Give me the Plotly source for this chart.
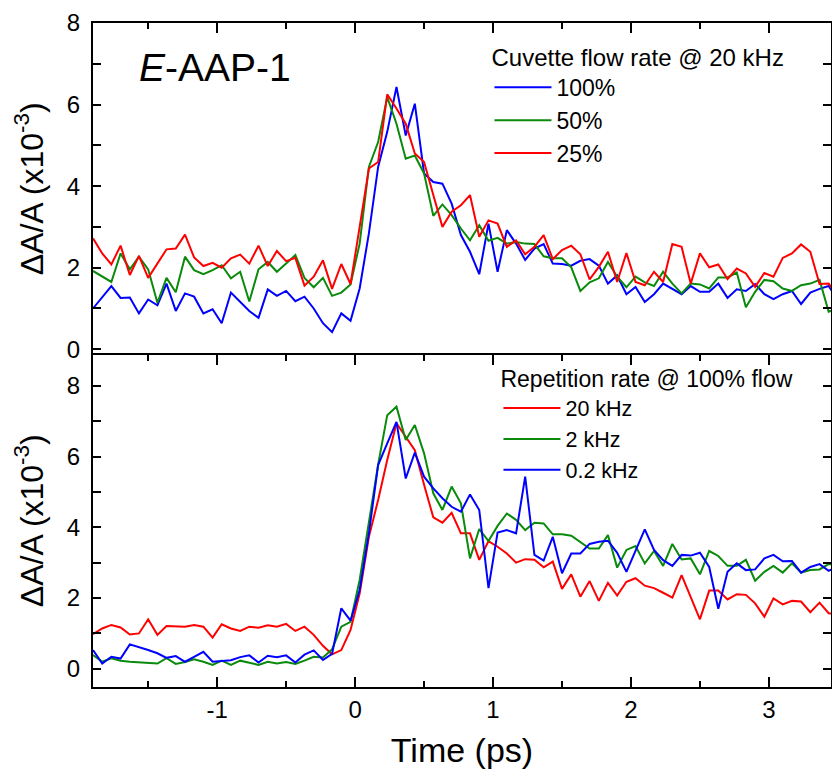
import plotly.graph_objects as go

# Time axis (ps)
time_ps = [-1.9, -1.833, -1.767, -1.7, -1.633, -1.567, -1.5, -1.433, -1.367, -1.3,
           -1.233, -1.167, -1.1, -1.033, -0.967, -0.9, -0.833, -0.767, -0.7, -0.633,
           -0.567, -0.5, -0.433, -0.367, -0.3, -0.233, -0.167, -0.1, -0.033, 0.033,
           0.1, 0.167, 0.233, 0.3, 0.367, 0.433, 0.5, 0.567, 0.633, 0.7,
           0.767, 0.833, 0.9, 0.967, 1.033, 1.1, 1.167, 1.233, 1.3, 1.367,
           1.433, 1.5, 1.567, 1.633, 1.7, 1.767, 1.833, 1.9, 1.967, 2.033,
           2.1, 2.167, 2.233, 2.3, 2.367, 2.433, 2.5, 2.567, 2.633, 2.7,
           2.767, 2.833, 2.9, 2.967, 3.033, 3.1, 3.167, 3.233, 3.3, 3.367,
           3.433, 3.5]

# Top panel: cuvette flow rate @ 20 kHz
flow_100 = [1.00, 1.29, 1.55, 1.26, 1.27, 0.88, 1.22, 1.08, 1.61, 0.94, 1.37, 1.29, 0.88, 0.98, 0.64,
            1.39, 1.17, 0.94, 0.77, 1.47, 1.31, 1.43, 1.18, 1.29, 1.00, 0.64, 0.42, 0.88, 0.70,
            1.49, 2.84, 4.47, 5.33, 6.43, 5.24, 6.02, 4.31, 4.10, 4.06, 3.57, 2.80, 2.39, 1.84, 3.08, 1.90,
            2.92, 2.59, 2.19, 2.47, 2.58, 2.10, 2.09, 2.05, 2.17, 2.21, 2.05, 1.61, 1.81, 1.35, 1.53,
            1.16, 1.35, 1.61, 1.49, 1.35, 1.55, 1.41, 1.41, 1.61, 1.26, 1.47, 1.43, 1.60, 1.35, 1.23,
            1.35, 1.43, 1.11, 1.39, 1.48, 1.55, 1.20]
flow_50 = [1.92, 1.78, 1.65, 2.35, 1.96, 2.27, 1.96, 1.14, 1.75, 1.40, 2.27, 1.94, 1.84, 1.94, 2.06,
           1.74, 1.90, 1.17, 1.96, 2.14, 1.90, 2.10, 2.31, 1.75, 1.52, 1.75, 1.31, 1.39, 1.59,
           2.59, 4.47, 5.08, 6.18, 5.53, 4.67, 4.75, 4.31, 3.27, 3.55, 3.29, 2.96, 2.67, 3.04, 2.66, 2.73,
           2.59, 2.63, 2.59, 2.58, 2.28, 2.23, 2.23, 2.01, 1.43, 1.64, 1.74, 2.14, 1.78, 1.52, 1.78,
           1.64, 1.55, 1.90, 1.61, 1.37, 1.61, 1.59, 1.49, 1.76, 1.76, 1.88, 1.03, 1.41, 1.70, 1.67,
           1.49, 1.43, 1.57, 1.61, 1.70, 0.92, 1.00]
flow_25 = [2.72, 2.35, 2.08, 2.54, 1.82, 2.29, 1.75, 2.10, 2.45, 2.47, 2.81, 2.25, 2.04, 2.12, 2.00,
           2.23, 2.32, 2.10, 2.54, 2.04, 2.41, 2.16, 2.24, 1.56, 1.78, 2.18, 1.48, 2.09, 1.60,
           3.00, 4.43, 4.59, 6.25, 5.90, 5.53, 4.80, 4.59, 3.78, 3.00, 3.37, 3.53, 3.78, 2.76, 3.16, 3.08,
           2.51, 2.67, 2.33, 2.51, 2.80, 2.21, 2.43, 2.54, 2.33, 1.71, 2.02, 2.39, 1.65, 2.36, 1.65,
           1.57, 1.90, 1.65, 2.58, 2.51, 1.61, 2.35, 2.01, 2.08, 1.72, 1.98, 1.86, 1.53, 1.87, 1.78,
           2.24, 2.35, 2.57, 2.39, 1.60, 1.61, 1.30]

# Bottom panel: repetition rate @ 100% flow
rep_20k = [0.98, 1.14, 1.24, 1.17, 0.97, 1.00, 1.40, 0.96, 1.21, 1.19, 1.19, 1.24, 1.19, 0.88, 1.26,
           1.14, 1.07, 1.19, 1.16, 1.23, 1.19, 1.27, 1.07, 1.19, 0.96, 0.65, 0.41, 0.53, 1.10,
           2.13, 3.73, 4.77, 5.90, 6.94, 6.56, 6.18, 5.20, 4.28, 4.13, 4.41, 3.83, 3.83, 3.08, 3.61, 3.45,
           3.26, 3.00, 3.10, 3.08, 2.87, 3.03, 2.26, 2.67, 2.04, 2.48, 1.92, 2.43, 2.07, 2.46, 2.56,
           2.35, 2.28, 2.15, 2.01, 2.65, 2.02, 1.40, 2.21, 2.21, 1.96, 2.11, 2.09, 1.85, 1.47, 1.99,
           1.82, 1.92, 1.90, 1.60, 1.87, 1.57, 1.55]
rep_2k = [0.39, 0.20, 0.30, 0.23, 0.20, 0.19, 0.17, 0.15, 0.30, 0.14, 0.19, 0.27, 0.20, 0.11, 0.23,
          0.11, 0.23, 0.17, 0.11, 0.20, 0.15, 0.19, 0.14, 0.23, 0.34, 0.32, 0.55, 1.19, 1.33,
          2.51, 4.14, 5.77, 7.17, 7.41, 6.47, 6.89, 6.09, 4.96, 4.49, 5.15, 4.68, 3.12, 3.95, 3.61, 4.04,
          4.39, 4.21, 3.92, 4.13, 4.11, 3.80, 3.80, 3.76, 3.59, 3.40, 3.40, 3.78, 2.86, 3.36, 3.47,
          2.98, 3.33, 2.91, 3.53, 3.09, 3.12, 2.67, 3.33, 3.19, 2.91, 2.91, 3.08, 2.49, 2.74, 2.91,
          2.72, 2.98, 2.72, 2.79, 2.81, 2.96, 2.95]
rep_02k = [0.53, 0.15, 0.34, 0.29, 0.69, 0.62, 0.53, 0.44, 0.31, 0.36, 0.20, 0.34, 0.48, 0.20, 0.23,
           0.24, 0.33, 0.38, 0.18, 0.37, 0.33, 0.38, 0.18, 0.40, 0.52, 0.25, 0.42, 1.71, 1.36,
           2.23, 3.83, 5.76, 6.37, 6.98, 5.38, 6.11, 5.43, 5.10, 4.82, 4.58, 4.44, 4.93, 4.49, 2.28, 3.85,
           3.92, 3.83, 5.43, 3.22, 3.06, 3.73, 2.70, 3.26, 3.26, 3.53, 3.59, 3.62, 3.28, 2.74, 3.36,
           3.94, 3.36, 3.07, 2.91, 3.22, 3.20, 3.28, 2.88, 1.70, 2.74, 2.98, 2.79, 2.81, 3.12, 3.22,
           3.04, 3.05, 2.72, 2.88, 2.96, 2.77, 2.90]

top_names = ["100%", "50%", "25%"]
bottom_names = ["20 kHz", "2 kHz", "0.2 kHz"]
x_tickvals = [-1, 0, 1, 2, 3]
x_ticktext = ["-1", "0", "1", "2", "3"]
BLUE, GREEN, RED = "#0000FF", "#0A8A0A", "#FF0000"
FONT = "Arial, Liberation Sans, sans-serif"

fig = go.Figure()
for name, ys, col in zip(top_names, [flow_100, flow_50, flow_25], [BLUE, GREEN, RED]):
    fig.add_trace(go.Scatter(x=time_ps, y=ys, mode="lines", name=name,
                             line=dict(color=col, width=2), xaxis="x", yaxis="y",
                             legend="legend"))
for name, ys, col in zip(bottom_names, [rep_20k, rep_2k, rep_02k], [RED, GREEN, BLUE]):
    fig.add_trace(go.Scatter(x=time_ps, y=ys, mode="lines", name=name,
                             line=dict(color=col, width=2), xaxis="x2", yaxis="y2",
                             legend="legend2"))

H = 769.0
top_dom = [(H - 355) / H, (H - 22.7) / H]
bot_dom = [(H - 686.5) / H, (H - 355) / H]
xr = [-1.9, 3.45]
tickfont = dict(family=FONT, size=24, color="black")
ytitle = "ΔA/A (x10<sup>-3</sup>)"

common_x = dict(range=xr, tickmode="array", tickvals=x_tickvals, ticktext=x_ticktext,
                ticks="inside", ticklen=10, tickwidth=2,
                tickcolor="black", showline=True, linewidth=2, linecolor="black",
                showgrid=False, zeroline=False,
                minor=dict(dtick=0.5, tick0=0, ticks="inside", ticklen=6, tickwidth=2,
                           tickcolor="black", showgrid=False))
common_y = dict(tick0=0, dtick=2, ticks="inside", ticklen=8, tickwidth=2, tickcolor="black",
                showline=True, linewidth=2, linecolor="black", mirror="ticks",
                showgrid=False, zeroline=False, tickfont=tickfont, ticklabelstandoff=6,
                minor=dict(dtick=1, tick0=0, ticks="inside", ticklen=8, tickwidth=2,
                           tickcolor="black", showgrid=False),
                title=dict(text=ytitle, font=dict(family=FONT, size=32, color="black"),
                           standoff=14))

fig.update_layout(
    width=832, height=769,
    margin=dict(l=93, r=1, t=0, b=0, autoexpand=False),
    paper_bgcolor="white", plot_bgcolor="white",
    font=dict(family=FONT, color="black"),
    xaxis=dict(common_x, domain=[0, 1], anchor="y", side="top", mirror=False,
               showticklabels=False),
    yaxis=dict(common_y, domain=top_dom, anchor="x", range=[-0.14, 8.005]),
    xaxis2=dict(common_x, domain=[0, 1], anchor="y2", matches="x", mirror="ticks",
                tickfont=tickfont, ticklabelstandoff=1,
                title=dict(text="Time (ps)", font=dict(family=FONT, size=34, color="black"),
                           standoff=16)),
    yaxis2=dict(common_y, domain=bot_dom, anchor="x2", range=[-0.5, 8.87]),
    legend=dict(x=(490 - 93) / 739.0, xanchor="left", y=0.955, yanchor="top",
                xref="paper", yref="paper",
                bgcolor="rgba(0,0,0,0)", borderwidth=0,
                font=dict(family=FONT, size=23, color="black"),
                title=dict(text="Cuvette flow rate @ 20 kHz",
                           font=dict(family=FONT, size=24, color="black")),
                itemwidth=57, tracegroupgap=0),
    legend2=dict(x=(499 - 93) / 739.0, xanchor="left", y=0.535, yanchor="top",
                 xref="paper", yref="paper",
                 bgcolor="rgba(0,0,0,0)", borderwidth=0,
                 font=dict(family=FONT, size=21.5, color="black"),
                 title=dict(text="Repetition rate @ 100% flow",
                            font=dict(family=FONT, size=23, color="black")),
                 itemwidth=57, tracegroupgap=0),
    annotations=[dict(text="<i>E</i>-AAP-1", x=-1.58, y=6.9, xref="x", yref="y",
                      xanchor="left", yanchor="middle", showarrow=False,
                      font=dict(family=FONT, size=39, color="black"))],
)

fig.write_html("out.html")
